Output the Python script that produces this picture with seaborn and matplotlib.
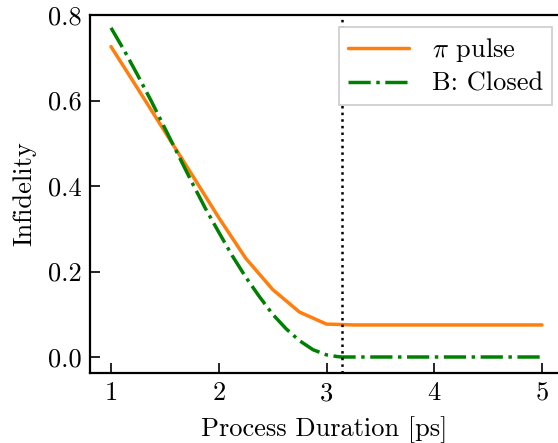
import matplotlib
matplotlib.use("Agg")
import matplotlib.pyplot as plt
import seaborn as sns
import numpy as np
import pandas as pd

# Data
duration_pi = [1.0, 1.25, 1.5, 1.75, 2.0, 2.25, 2.5, 2.75, 3.0, 3.25, 3.5, 3.75, 4.0, 4.25, 4.5, 4.75, 5.0]
infid_pi = [0.726, 0.627, 0.527, 0.427, 0.326, 0.231, 0.158, 0.105, 0.077, 0.075, 0.075, 0.075, 0.075, 0.075, 0.075, 0.075, 0.075]

duration_closed = [1.0, 1.125, 1.25, 1.375, 1.5, 1.625, 1.75, 1.875, 2.0, 2.125, 2.25, 2.375, 2.5,
                   2.625, 2.75, 2.875, 3.0, 3.1, 3.14, 3.25, 3.5, 4.0, 4.5, 5.0]
infid_closed = [0.770, 0.716, 0.658, 0.598, 0.535, 0.472, 0.409, 0.348, 0.292, 0.237, 0.187, 0.142,
                0.100, 0.066, 0.038, 0.017, 0.005, 0.001, 0.0, 0.0, 0.0, 0.0, 0.0, 0.0]

label_pi = r"$\pi$ pulse"
label_closed = "B: Closed"
x_label = "Process Duration [ps]"
y_label = "Infidelity"
xticks = [1, 2, 3, 4, 5]
yticks = [0.0, 0.2, 0.4, 0.6, 0.8]
vline_x = np.pi

sns.set_style("ticks")
plt.rcParams["font.family"] = ["cmr10", "DejaVu Serif"]
plt.rcParams["mathtext.fontset"] = "cm"
plt.rcParams["axes.formatter.use_mathtext"] = True
plt.rcParams["axes.unicode_minus"] = False
plt.rcParams["text.color"] = "black"
plt.rcParams["axes.labelcolor"] = "black"
plt.rcParams["xtick.color"] = "black"
plt.rcParams["ytick.color"] = "black"
plt.rcParams["axes.edgecolor"] = "black"

W, H = 558, 443
fig = plt.figure(figsize=(W / 100, H / 100), dpi=100)
ax = fig.add_axes([90 / W, 1 - 373 / H, (W - 90) / W, (373 - 15) / H])

df_pi = pd.DataFrame({"x": duration_pi, "y": infid_pi})
df_cl = pd.DataFrame({"x": duration_closed, "y": infid_closed})

sns.lineplot(data=df_pi, x="x", y="y", ax=ax, color="#ff7f0e", lw=2.5, label=label_pi)
sns.lineplot(data=df_cl, x="x", y="y", ax=ax, color="green", lw=2.5, label=label_closed)
ax.lines[1].set_linestyle("-.")
ax.axvline(vline_x, color="black", ls=":", lw=1.8)

ax.set_xlim(0.805, 0.805 + (W - 90) / 107.75)
ax.set_ylim(-(373 - 357) / 427.5, (357 - 15) / 427.5)
ax.set_xticks(xticks)
ax.set_yticks(yticks)
ax.set_xticklabels([str(t) for t in xticks])
ax.set_yticklabels([f"{t:.1f}" for t in yticks])
ax.tick_params(direction="in", length=7, width=1.2, labelsize=19, pad=6)
ax.set_xlabel(x_label, fontsize=19, labelpad=8)
ax.set_ylabel(y_label, fontsize=19, labelpad=8)
for s in ["left", "bottom", "top"]:
    ax.spines[s].set_linewidth(1.6)
ax.spines["right"].set_visible(False)

leg = ax.legend(loc="upper right", bbox_to_anchor=((552 - 90) / (W - 90), 1 - 12 / 358), fontsize=19,
                fancybox=False, frameon=True, handlelength=2.3, borderpad=0.35, labelspacing=0.3,
                handletextpad=0.85, borderaxespad=0)
leg.get_frame().set_edgecolor("#cccccc")
leg.get_frame().set_linewidth(1.2)
leg.get_frame().set_alpha(1.0)

fig.savefig("out.png", dpi=100)
